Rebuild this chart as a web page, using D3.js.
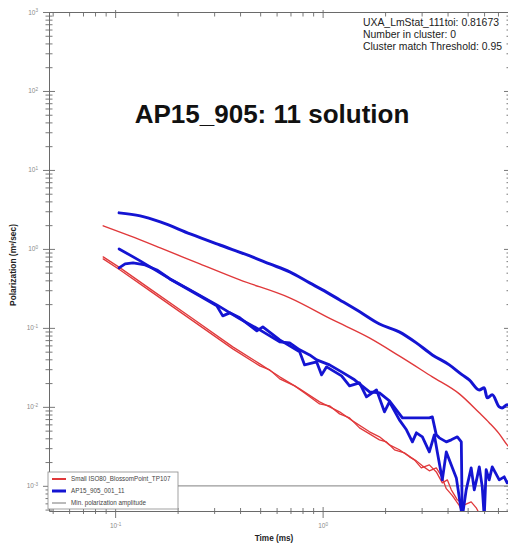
<!DOCTYPE html>
<html>
<head>
<meta charset="utf-8">
<script src="https://cdn.jsdelivr.net/npm/d3@7"></script>
<style>
    body { margin: 0; background: #fff; }
    #chart { width: 508px; height: 544px; overflow: hidden; }
    text { font-family: Arial, "Liberation Sans", sans-serif; }
</style>
</head>
<body>
<div id="chart"></div>
<script>

// ---- data: [time (ms), polarization (m3/sec)] ----

// Small ISO80_BlossomPoint_TP107 (red, three components)
let redUpper = [[0.0876,1.96],[0.118,1.46],[0.165,1.03],[0.256,0.646],[0.399,0.405],[0.694,0.240],[1.12,0.126],
    [1.68,0.0747],[2.34,0.0442],[3.38,0.0240],[4.56,0.0146],[5.69,0.0084],[6.35,0.0063],[7.10,0.00455],[7.75,0.0033],[8.4,0.0026]];

let redLowerA = [[0.0876,0.792],[0.1057,0.575],[0.1473,0.312],[0.2296,0.138],[0.369,0.0575],[0.498,0.035],[0.621,0.024],
    [0.775,0.0169],[0.967,0.01157],[1.207,0.00865],[1.394,0.00665],[1.683,0.00483],[1.879,0.00417],[2.099,0.0033],
    [2.344,0.00286],[2.62,0.00233],[2.831,0.00207],[3.025,0.00179],[3.268,0.00155],[3.531,0.00169],[3.733,0.00134],
    [3.945,0.00092],[4.22,0.00075],[4.56,0.00056],[4.82,0.0004]];

let redLowerB = [[0.0876,0.747],[0.1057,0.542],[0.1473,0.294],[0.2296,0.130],[0.369,0.0542],[0.498,0.033],[0.556,0.0294],
    [0.621,0.0226],[0.733,0.01845],[0.819,0.015],[0.967,0.0109],[1.08,0.0103],[1.207,0.00815],[1.348,0.00726],
    [1.506,0.00542],[1.683,0.00455],[1.879,0.00382],[2.03,0.0036],[2.22,0.00286],[2.479,0.00262],[2.77,0.00213],
    [2.99,0.00169],[3.268,0.00184],[3.531,0.0015],[3.775,0.00109],[3.99,0.00119],[4.17,0.00089],[4.46,0.000665],
    [4.82,0.000575],[5.20,0.000627],[5.50,0.000527],[5.81,0.0004]];

// AP15_905_001_11 (blue, measured)
let blueUpper = [[0.1045,2.86],[0.132,2.62],[0.165,2.20],[0.23,1.55],[0.32,1.12],[0.446,0.815],[0.556,0.646],[0.694,0.512],
    [0.866,0.371],[1.02,0.294],[1.21,0.226],[1.51,0.160],[1.88,0.112],[2.34,0.089],[2.83,0.0646],[3.38,0.0455],
    [4.08,0.034],[4.71,0.0254],[5.09,0.022],[5.69,0.0164],[6.01,0.0174],[6.21,0.013],[6.57,0.0142],[7.10,0.0100],
    [7.33,0.0097],[7.75,0.0106],[8.4,0.0087]];

let blueMiddle = [[0.1045,1.0],[0.132,0.705],[0.1838,0.417],[0.256,0.254],[0.309,0.190],[0.330,0.142],[0.357,0.155],
    [0.399,0.134],[0.482,0.0916],[0.515,0.103],[0.621,0.0705],[0.775,0.0497],[0.819,0.0340],[0.936,0.0371],[0.989,0.0254],
    [1.045,0.0321],[1.234,0.0247],[1.348,0.01845],[1.506,0.0201],[1.627,0.0134],[1.818,0.0164],[1.986,0.00865],
    [2.099,0.01157],[2.344,0.00685],[2.535,0.00512],[2.708,0.0036],[2.831,0.00469],[3.025,0.00417],[3.268,0.00269],
    [3.454,0.00442],[3.57,0.00269],[3.775,0.00119],[3.945,0.00269],[4.17,0.00184],[4.41,0.00126],[4.71,0.0004],
    [4.92,0.00089],[5.20,0.00169],[5.38,0.00089],[5.56,0.0013],[5.69,0.00174],[5.88,0.00097],[6.01,0.0004],
    [6.14,0.0016],[6.35,0.00119],[6.57,0.00174],[7.10,0.00119],[7.50,0.0013],[7.75,0.00109],[8.28,0.00126]];

let blueLower = [[0.1045,0.575],[0.1117,0.646],[0.122,0.665],[0.1394,0.627],[0.159,0.542],[0.1838,0.417],[0.2296,0.303],
    [0.309,0.1955],[0.399,0.130],[0.498,0.0944],[0.621,0.0665],[0.694,0.0646],[0.775,0.0527],[0.866,0.0455],
    [0.936,0.0394],[1.08,0.034],[1.234,0.0277],[1.425,0.022],[1.683,0.0155],[1.879,0.015],[2.099,0.0119],
    [2.425,0.00726],[2.862,0.00726],[3.268,0.00726],[3.379,0.00747],[3.531,0.00442],[3.651,0.00405],[3.945,0.0036],
    [4.17,0.00382],[4.46,0.00417],[4.66,0.0036],[4.71,0.0004]];

let minAmplitude = 0.001;

let xDomain = [0.048, 8];
let yDomain = [0.00048, 1000];

let infoLines = ["UXA_LmStat_111toi: 0.81673", "Number in cluster: 0", "Cluster match Threshold: 0.95"];
let legendLabels = ["Small ISO80_BlossomPoint_TP107", "AP15_905_001_11", "Min. polarization amplitude"];


class DecayVis {

    constructor(parentElement) {
        this.parentElement = parentElement;
        this.initVis();
    }

    initVis() {
        let vis = this;

        vis.width = 508;
        vis.height = 544;
        vis.plot = {left: 49, right: 510, top: 12, bottom: 511};

        vis.svg = d3.select("#" + vis.parentElement).append("svg")
            .attr("width", vis.width)
            .attr("height", vis.height);

        vis.svg.append("rect")
            .attr("width", vis.width)
            .attr("height", vis.height)
            .attr("fill", "#fff");

        vis.x = d3.scaleLog().domain(xDomain).range([vis.plot.left, vis.plot.right]);
        vis.y = d3.scaleLog().domain(yDomain).range([vis.plot.bottom, vis.plot.top]);

        vis.isMajor = d => Math.abs(Math.log10(d) - Math.round(Math.log10(d))) < 1e-6;

        vis.svg.append("clipPath").attr("id", "plotClip")
            .append("rect")
            .attr("x", vis.plot.left)
            .attr("y", vis.plot.top)
            .attr("width", vis.plot.right - vis.plot.left)
            .attr("height", vis.plot.bottom - vis.plot.top);

        vis.drawAxes();
        vis.drawSeries();
        vis.drawText();
        vis.drawLegend();
    }

    drawAxes() {
        let vis = this;
        let axisColor = "#6a6a6a";
        let xTicks = vis.x.ticks(20);
        let yTicks = vis.y.ticks(30);

        // left
        let left = vis.svg.append("g")
            .attr("transform", `translate(${vis.plot.left},0)`)
            .call(d3.axisLeft(vis.y).tickValues(yTicks).tickSize(0).tickFormat(""));
        left.selectAll(".tick line")
            .attr("x1", d => vis.isMajor(d) ? -6 : -3.5)
            .attr("x2", d => vis.isMajor(d) ? 6 : 3.5);

        // right (mostly outside the window)
        let right = vis.svg.append("g")
            .attr("transform", `translate(${vis.plot.right},0)`)
            .call(d3.axisRight(vis.y).tickValues(yTicks).tickSize(0).tickFormat(""));
        right.selectAll(".tick line")
            .attr("x1", 0)
            .attr("x2", d => vis.isMajor(d) ? -6 : -3.5);

        // bottom
        let bottom = vis.svg.append("g")
            .attr("transform", `translate(0,${vis.plot.bottom})`)
            .call(d3.axisBottom(vis.x).tickValues(xTicks).tickSize(0).tickFormat(""));
        bottom.selectAll(".tick line")
            .attr("y1", d => vis.isMajor(d) ? -4 : -3)
            .attr("y2", d => vis.isMajor(d) ? 7 : 3);

        // top
        let top = vis.svg.append("g")
            .attr("transform", `translate(0,${vis.plot.top})`)
            .call(d3.axisTop(vis.x).tickValues(xTicks).tickSize(0).tickFormat(""));
        top.selectAll(".tick line")
            .attr("y1", d => vis.isMajor(d) ? -2 : 0)
            .attr("y2", d => vis.isMajor(d) ? 6 : 4.5);

        [left, right, bottom, top].forEach(g => {
            g.selectAll(".domain").attr("stroke", axisColor).attr("stroke-width", 1);
            g.selectAll(".tick line").attr("stroke", axisColor).attr("stroke-width", 0.9);
        });

        // power-of-ten labels
        let addPow = (sel) => {
            sel.append("tspan").text("10");
            sel.append("tspan")
                .attr("dy", "-0.5em")
                .attr("font-size", "4.6px")
                .text(d => Math.round(Math.log10(d)));
        };

        left.selectAll(".tick").filter(vis.isMajor).append("text")
            .attr("x", -11)
            .attr("y", 2)
            .attr("text-anchor", "end")
            .attr("font-size", "6.5px")
            .attr("fill", "#8a8a8a")
            .call(addPow);

        bottom.selectAll(".tick").filter(vis.isMajor).append("text")
            .attr("x", 0)
            .attr("y", 17)
            .attr("text-anchor", "middle")
            .attr("font-size", "6.5px")
            .attr("fill", "#8a8a8a")
            .call(addPow);

        // minimum polarization amplitude
        vis.svg.append("line")
            .attr("x1", vis.plot.left)
            .attr("x2", vis.plot.right)
            .attr("y1", vis.y(minAmplitude))
            .attr("y2", vis.y(minAmplitude))
            .attr("stroke", "#9a9a9a")
            .attr("stroke-width", 1.2);
    }

    drawSeries() {
        let vis = this;

        let line = d3.line()
            .x(d => vis.x(d[0]))
            .y(d => vis.y(d[1]));

        // the model curves are smooth, the measured ones are noisy
        let smooth = d3.line()
            .x(d => vis.x(d[0]))
            .y(d => vis.y(d[1]))
            .curve(d3.curveMonotoneX);

        let series = [
            {data: redUpper, color: "#e0393b", w: 1.4, gen: smooth},
            {data: redLowerA, color: "#e0393b", w: 1.3, gen: line},
            {data: redLowerB, color: "#e0393b", w: 1.3, gen: line},
            {data: blueUpper, color: "#1414d2", w: 3, gen: smooth},
            {data: blueMiddle, color: "#1414d2", w: 2.8, gen: line},
            {data: blueLower, color: "#1414d2", w: 2.8, gen: line}
        ];

        vis.svg.append("g")
            .attr("clip-path", "url(#plotClip)")
            .selectAll("path")
            .data(series)
            .enter()
            .append("path")
            .attr("d", d => d.gen(d.data))
            .attr("fill", "none")
            .attr("stroke", d => d.color)
            .attr("stroke-width", d => d.w)
            .attr("stroke-linejoin", "round")
            .attr("stroke-linecap", "round");
    }

    drawText() {
        let vis = this;

        vis.svg.append("text")
            .attr("x", 272)
            .attr("y", 123)
            .attr("text-anchor", "middle")
            .attr("font-size", "26px")
            .attr("font-weight", "bold")
            .attr("fill", "#111")
            .text("AP15_905: 11 solution");

        vis.svg.selectAll(".info")
            .data(infoLines)
            .enter()
            .append("text")
            .attr("class", "info")
            .attr("x", 363)
            .attr("y", (d, i) => 26 + i * 12)
            .attr("font-size", "10.4px")
            .attr("fill", "#222")
            .text(d => d);

        vis.svg.append("text")
            .attr("transform", "translate(16,265) rotate(-90)")
            .attr("text-anchor", "middle")
            .attr("font-size", "8.4px")
            .attr("font-weight", "bold")
            .attr("fill", "#222")
            .text("Polarization (m³/sec)");

        vis.svg.append("text")
            .attr("x", 274)
            .attr("y", 541)
            .attr("text-anchor", "middle")
            .attr("font-size", "8.2px")
            .attr("font-weight", "bold")
            .attr("fill", "#222")
            .text("Time (ms)");
    }

    drawLegend() {
        let vis = this;

        let legend = vis.svg.append("g")
            .attr("transform", "translate(48,472)");

        legend.append("rect")
            .attr("width", 130)
            .attr("height", 37)
            .attr("fill", "#fff")
            .attr("stroke", "#8a8a8a")
            .attr("stroke-width", 0.8);

        let styles = [
            {color: "#e0393b", w: 2},
            {color: "#1414d2", w: 3},
            {color: "#777", w: 1}
        ];

        let rows = legend.selectAll(".row")
            .data(legendLabels)
            .enter()
            .append("g")
            .attr("class", "row")
            .attr("transform", (d, i) => `translate(0,${7 + i * 12})`);

        rows.append("line")
            .attr("x1", 4)
            .attr("x2", 18)
            .attr("stroke", (d, i) => styles[i].color)
            .attr("stroke-width", (d, i) => styles[i].w);

        rows.append("text")
            .attr("x", 23)
            .attr("y", 2.2)
            .attr("font-size", "6.3px")
            .attr("fill", "#444")
            .text(d => d);
    }
}

new DecayVis("chart");

</script>
</body>
</html>
